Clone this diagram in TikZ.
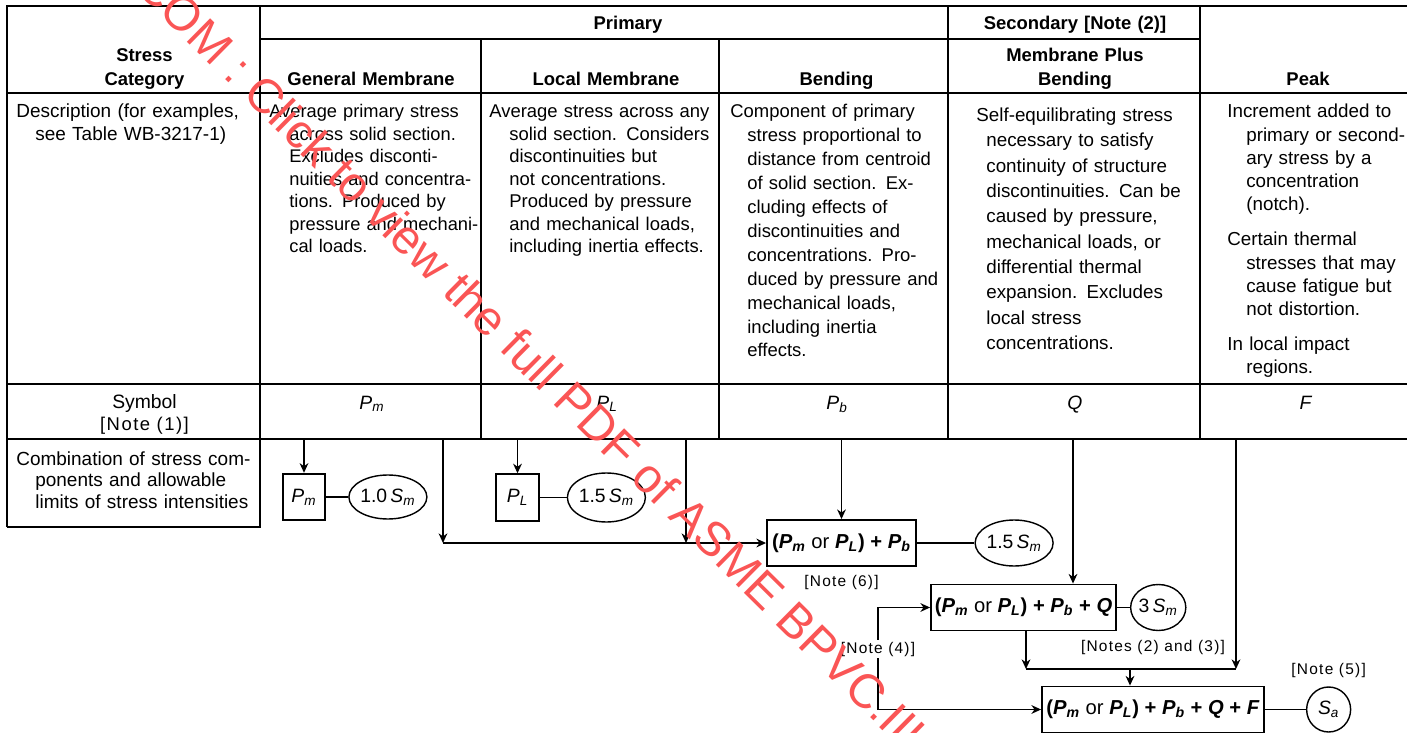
\documentclass[tikz,border=0pt]{standalone}
\usepackage{amsmath}
\usepackage{fontspec}
\setmainfont{Liberation Sans}
\newfontfamily\notefont[LetterSpace=8]{Liberation Sans}
\usetikzlibrary{arrows.meta}
\usetikzlibrary{shapes.geometric}
\usetikzlibrary{calc,positioning}
\definecolor{wmred}{RGB}{250,85,85}
\newcommand{\stress}[2]{\textit{#1}\textsubscript{\textit{#2}}}

\begin{document}
\begin{tikzpicture}[x=0.02cm, y=-0.02cm, >={Stealth[length=5.5pt,width=5pt]},
    tbl/.style={line width=0.7pt},
    hd/.style={font=\fontsize{10.5}{13.4}\selectfont\bfseries, align=center, text width=4.5cm, anchor=base, inner sep=0pt},
    desc/.style={font=\fontsize{10.8}{12.8}\selectfont, align=left, text width=5cm, anchor=base west, inner sep=0pt, execute at begin node={\let\\\newline\hangindent=#1\hangafter=1}},
    desc/.default=11.4pt,
    sym/.style={font=\fontsize{11}{13}\selectfont, anchor=base, inner sep=0pt},
    note/.style={font=\notefont\fontsize{8.8}{10}\selectfont, inner sep=1pt},
    sbox/.style={draw, line width=1.1pt, minimum width=0.85cm, minimum height=0.93cm, inner sep=0pt, font=\fontsize{11}{13}\selectfont},
    combo/.style={draw, line width=1.1pt, minimum height=0.92cm, inner sep=0pt, font=\fontsize{11.5}{13}\selectfont\bfseries},
    lim/.style={draw, ellipse, line width=0.8pt, inner sep=0pt, font=\fontsize{11}{13}\selectfont},
    link/.style={line width=0.7pt}]
    \useasboundingbox (0,0) rectangle (1407,733);

    % table frame
    \draw[tbl] (7,527) -- (7,6) -- (1407,6);
    \draw[tbl] (260,6) -- (260,527) -- (7,527);
    \draw[tbl] (260,39) -- (1200,39);
    \foreach \x/\y in {481/39, 719/39, 948/6, 1200/6}
        \draw[tbl] (\x,\y) -- (\x,439);
    \draw[line width=1.4pt] (7,93) -- (1407,93);
    \draw[tbl] (7,384) -- (1407,384);
    \draw[tbl] (7,439) -- (1407,439);
    \coordinate (row) at (0,439);

    % headings
    \node[hd] (hcat) at (144.5,62) {Stress\\Category};
    \node[hd] (hpri) at (628,30) {Primary};
    \node[hd] (hsec) at (1075,30) {Secondary [Note (2)]};
    \node[hd] (hgm) at (371,85.5) {General Membrane};
    \node[hd] (hlm) at (606,85.5) {Local Membrane};
    \node[hd] (hbe) at (836.5,85.5) {Bending};
    \node[hd] (hmb) at (1075,62) {Membrane Plus\\Bending};
    \node[hd] (hpk) at (1308,85.5) {Peak};

    % descriptions
    \node[desc=10.8pt] (dcat) at (16,118) {Description (for examples,\\see Table WB-3217-1)};
    \node[desc, font=\fontsize{10.4}{12.8}\selectfont] (dgm) at (269,118) {Average primary stress\\across solid section.\\Excludes disconti-\\nuities and concentra-\\tions. Produced by\\pressure and mechani-\\cal loads.};
    \node[desc, font=\fontsize{10.5}{12.8}\selectfont] (dlm) at (489,118) {Average stress across any\\solid section. Considers\\discontinuities but\\not concentrations.\\Produced by pressure\\and mechanical loads,\\including inertia effects.};
    \node[desc=9.7pt, font=\fontsize{10.5}{13.6}\selectfont] (dbe) at (730,118) {Component of primary\\stress proportional to\\distance from centroid\\of solid section. Ex-\\cluding effects of\\discontinuities and\\concentrations. Pro-\\duced by pressure and\\mechanical loads,\\including inertia\\effects.};
    \node[desc=5.7pt, font=\fontsize{10.7}{14.4}\selectfont] (dmb) at (976,121.7) {Self-equilibrating stress\\necessary to satisfy\\continuity of structure\\discontinuities. Can be\\caused by pressure,\\mechanical loads, or\\differential thermal\\expansion. Excludes\\local stress\\concentrations.};
    \node[desc=10.8pt, font=\fontsize{10.7}{13.1}\selectfont] (dpk1) at (1227,118) {Increment added to\\primary or second-\\ary stress by a\\concentration\\(notch).};
    \node[desc=10.8pt, font=\fontsize{10.7}{13.1}\selectfont] (dpk2) at (1227,246) {Certain thermal\\stresses that may\\cause fatigue but\\not distortion.};
    \node[desc=10.8pt, font=\fontsize{10.7}{13.1}\selectfont] (dpk3) at (1227,350.7) {In local impact\\regions.};

    % symbols
    \node[sym] (scat) at (144.5,408) {Symbol};
    \node[sym, font=\notefont\fontsize{10.5}{12}\selectfont] (snote) at (144.5,430) {[Note (1)]};
    \node[sym] (sPm) at (372,409) {\stress{P}{m}};
    \node[sym] (sPL) at (607,409) {\stress{P}{L}};
    \node[sym] (sPb) at (837,409) {\stress{P}{b}};
    \node[sym] (sQ) at (1075,409) {\textit{Q}};
    \node[sym] (sF) at (1306,409) {\textit{F}};

    % combinations
    \node[desc=10.8pt, font=\fontsize{10.8}{12.4}\selectfont] (ccat) at (16,465) {Combination of stress com-\\ponents and allowable\\limits of stress intensities};

    \node[sbox] (pm) at (304,497) {\stress{P}{m}};
    \node[lim, minimum width=1.4cm, minimum height=0.88cm, right=0.44cm of pm] (lpm) {1.0\,\stress{S}{m}};
    \node[sbox] (pl) at (517.5,497.5) {\stress{P}{L}};
    \node[lim, minimum width=1.5cm, minimum height=0.98cm, right=0.54cm of pl] (lpl) {1.5\,\stress{S}{m}};

    \node[combo, minimum width=2.98cm] (pb) at (841.5,543) {(\stress{P}{m} {\mdseries or} \stress{P}{L}) + \stress{P}{b}};
    \node[lim, minimum width=1.5cm, minimum height=0.92cm, right=1.15cm of pb] (lpb) {1.5\,\stress{S}{m}};
    \node[note, below=0.12cm of pb] (n6) {[Note (6)]};

    \node[combo, minimum width=3.7cm] (pq) at (1023.5,607.5) {(\stress{P}{m} {\mdseries or} \stress{P}{L}) + \stress{P}{b} + \textit{Q}};
    \node[lim, minimum width=1.1cm, minimum height=0.92cm, right=0.26cm of pq] (lpq) {3\,\stress{S}{m}};

    \node[combo, minimum width=4.44cm] (pf) at (1153,709.5) {(\stress{P}{m} {\mdseries or} \stress{P}{L}) + \stress{P}{b} + \textit{Q} + \textit{F}};
    \node[lim, minimum width=0.88cm, minimum height=0.9cm, right=0.82cm of pf] (lpf) {\stress{S}{a}};
    \node[note, above=0.12cm of lpf] (n5) {[Note (5)]};

    \node[note] (n23) at (1153,648) {[Notes (2) and (3)]};
    \node[note, fill=white] (n4) at (878,649) {[Note (4)]};

    % connectors
    \draw[link] (pm) -- (lpm);
    \draw[link] (pl) -- (lpl);
    \draw[link] (pb) -- (lpb);
    \draw[link] (pq) -- (lpq);
    \draw[link] (pf) -- (lpf);

    \coordinate (pmfeed) at (443,439);
    \coordinate (plfeed) at (686,439);
    \coordinate (qfeed) at (1073,439);
    \coordinate (ffeed) at (1236,439);
    \coordinate (qjoin) at (1026,669);
    \coordinate (fjoin) at (1236,669);
    \coordinate (mjoin) at (1130,669);

    \draw[link, ->] (pm.north |- row) -- (pm);
    \draw[link, ->] (pl.north |- row) -- (pl);
    \draw[link, ->] (pmfeed) -- (pmfeed |- pb.west);
    \draw[link, ->] (pmfeed |- pb.west) -- (pb);
    \draw[link, ->] (plfeed) -- (plfeed |- pb.west);
    \draw[link, ->] (pb.north |- row) -- (pb);
    \draw[link, ->] (qfeed) -- (qfeed |- pq.north);
    \draw[link, ->] (ffeed) -- (fjoin);
    \draw[link, ->] (qjoin |- pq.south) -- (qjoin);
    \draw[link] (qjoin) -- (fjoin);
    \draw[link, ->] (mjoin) -- (mjoin |- pf.north);
    \draw[link, ->] (n4) |- (pq);
    \draw[link, ->] (n4) |- (pf);

    % watermark
    \begin{scope}
        \clip (0,0) rectangle (1407,733);
        \node[rotate=-44.7, anchor=west, text=wmred, inner sep=0pt, font=\fontsize{27.4}{30}\selectfont] (wm) at (145,-24) {COM : Click to view the full PDF of ASME BPVC.III};
    \end{scope}
\end{tikzpicture}
\end{document}
